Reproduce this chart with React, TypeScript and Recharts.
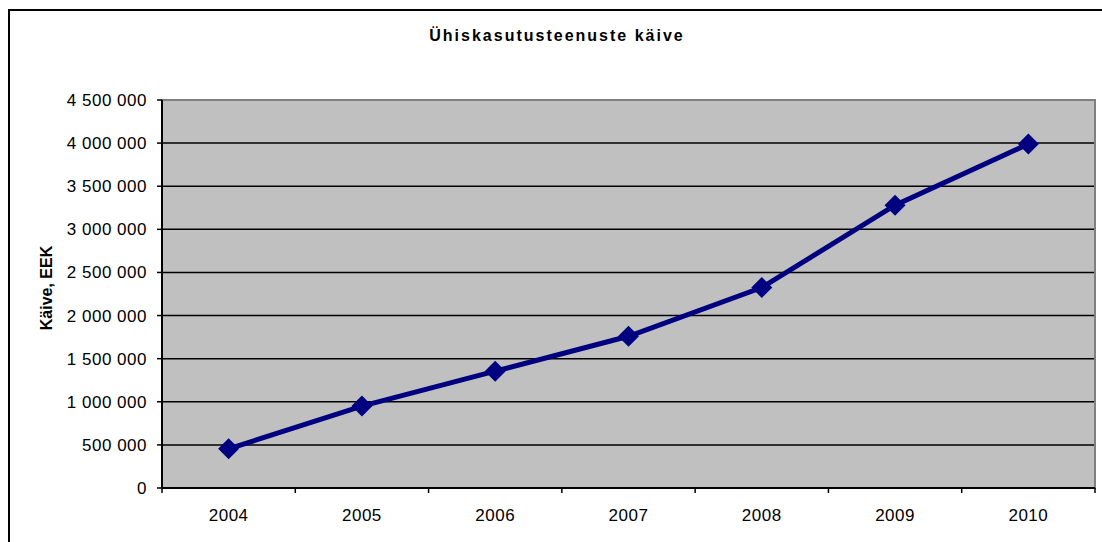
import React from 'react';
import { LineChart, Line, XAxis, YAxis, CartesianGrid, ReferenceArea } from 'recharts';

// andmed (loetud pildilt)
const years = ['2004', '2005', '2006', '2007', '2008', '2009', '2010'];
const turnover = [455000, 950000, 1355000, 1760000, 2325000, 3280000, 3990000];
const yTicks = [0, 500000, 1000000, 1500000, 2000000, 2500000, 3000000, 3500000, 4000000, 4500000];

const data = years.map((year, i) => ({ year, value: turnover[i] }));

const FONT = 'Arial, "Liberation Sans", sans-serif';
const fmt = (v: number) => v.toLocaleString('en-US').replace(/,/g, ' ');

// Excel-stiilis tick: silt keskel, kriips kategooria piiril
const YearTick = (props: any) => {
  const { x, y, payload, index, width } = props;
  const half = (width ?? 933) / years.length / 2;
  return (
    <g>
      <line x1={x - half} y1={y - 5} x2={x - half} y2={y} stroke="#000" strokeWidth={1.5} />
      {index === years.length - 1 && (
        <line x1={x + half} y1={y - 5} x2={x + half} y2={y} stroke="#000" strokeWidth={1.5} />
      )}
      <text x={x} y={y + 28} textAnchor="middle" fontSize={17} fill="#000" fontFamily={FONT} letterSpacing={0.5}>
        {payload.value}
      </text>
    </g>
  );
};

const Diamond = (props: any) => {
  const { cx, cy } = props;
  if (cx == null || cy == null) return null;
  const r = 10.5;
  return <polygon points={`${cx},${cy - r} ${cx + r},${cy} ${cx},${cy + r} ${cx - r},${cy}`} fill="#000080" />;
};

export default function App() {
  return (
    <div style={{ position: 'absolute', left: 0, top: 0, width: 1102, height: 542, background: '#fff', overflow: 'hidden' }}>
      <div
        style={{
          position: 'absolute',
          left: 8,
          top: 9,
          width: 1110,
          height: 560,
          borderLeft: '2px solid #000',
          borderTop: '2px solid #000',
        }}
      />
      <div
        style={{
          position: 'absolute',
          left: 0,
          width: 1102,
          top: 27,
          textAlign: 'center',
          paddingLeft: 12,
          boxSizing: 'border-box',
          fontFamily: FONT,
          fontWeight: 'bold',
          fontSize: 16,
          letterSpacing: 2,
          color: '#000',
        }}
      >
        Ühiskasutusteenuste käive
      </div>
      <div style={{ position: 'absolute', left: 0, top: 0 }}>
        <LineChart width={1102} height={542} data={data} margin={{ top: 100, right: 7, bottom: 24, left: 82 }}>
          <CartesianGrid vertical={false} stroke="#000" strokeWidth={1.5} fill="#C0C0C0" fillOpacity={1} />
          <ReferenceArea y1={0} y2={4500000} fill="none" stroke="#808080" strokeWidth={2} ifOverflow="visible" />
          <XAxis
            dataKey="year"
            scale="band"
            height={30}
            tickLine={false}
            tickSize={5}
            tickMargin={0}
            axisLine={{ stroke: '#000', strokeWidth: 2 }}
            tick={<YearTick />}
            interval={0}
          />
          <YAxis
            domain={[0, 4500000]}
            ticks={yTicks}
            width={80}
            interval={0}
            tickFormatter={fmt}
            tickSize={5}
            tickMargin={10}
            tickLine={{ stroke: '#000', strokeWidth: 1.5 }}
            axisLine={{ stroke: '#000', strokeWidth: 2 }}
            tick={{ fill: '#000', fontSize: 17, fontFamily: FONT, letterSpacing: 0.5 }}
            label={{
              content: (p: any) => {
                const vb = p.viewBox || {};
                const cy = (vb.y ?? 100) + (vb.height ?? 388) / 2 - 6;
                return (
                  <text
                    x={46}
                    y={cy}
                    transform={`rotate(-90 46 ${cy})`}
                    textAnchor="middle"
                    dominantBaseline="central"
                    fontSize={16}
                    fontWeight="bold"
                    fontFamily={FONT}
                    fill="#000"
                  >
                    Käive, EEK
                  </text>
                );
              },
            }}
          />
          <Line
            type="linear"
            dataKey="value"
            stroke="#000080"
            strokeWidth={5}
            dot={<Diamond />}
            activeDot={false}
            isAnimationActive={false}
          />
        </LineChart>
      </div>
    </div>
  );
}
